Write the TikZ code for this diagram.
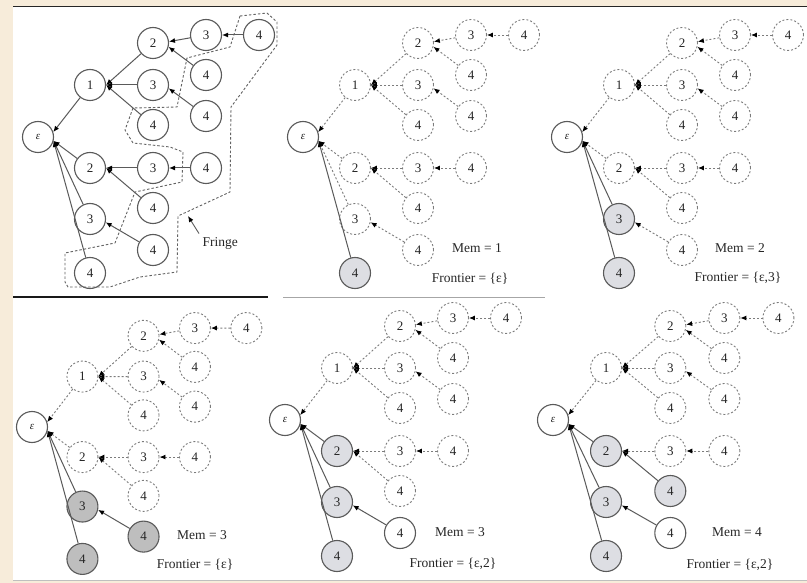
\documentclass[tikz,border=0pt]{standalone}
\usepackage{fontspec}
\setmainfont{Liberation Serif}
\usetikzlibrary{arrows.meta}
\definecolor{beige}{HTML}{F7ECDA}
\definecolor{lnc}{HTML}{5A5A5A}
\definecolor{dsh}{HTML}{7C7C7C}
\definecolor{shl}{HTML}{DDDEE3}
\definecolor{shd}{HTML}{BEBEBE}
\tikzset{
 nd/.style={circle, minimum size=31pt, inner sep=0pt, font=\fontsize{13}{15}\selectfont, text=black!85},
 dn/.style={nd, draw=dsh, line width=0.9pt, dash pattern=on 2pt off 2pt, fill=white},
 sn/.style={draw=lnc, line width=1.1pt, solid, fill=white},
 ln/.style={sn, fill=shl},
 kn/.style={sn, fill=shd},
 tip/.style={-{Latex[length=6pt,width=5pt,color=black]}},
 de/.style={draw=dsh, line width=0.9pt, dash pattern=on 2pt off 2pt, tip},
 se/.style={solid, draw=lnc, line width=1pt},
 lbl/.style={font=\fontsize{13.5}{16}\selectfont, text=black!85},
 Ne/.style={}, N1/.style={}, N12/.style={}, N123/.style={}, N1234/.style={},
 N124/.style={}, N13/.style={}, N134/.style={}, N14/.style={}, N2/.style={},
 N23/.style={}, N234/.style={}, N24/.style={}, N3/.style={}, N34/.style={}, N4/.style={},
 E1/.style={}, E12/.style={}, E123/.style={}, E1234/.style={},
 E124/.style={}, E13/.style={}, E134/.style={}, E14/.style={}, E2/.style={},
 E23/.style={}, E234/.style={}, E24/.style={}, E3/.style={}, E34/.style={}, E4/.style={},
}
\newcommand\drawtree[1]{%
 \node[dn,Ne] (#1-e) at (0,0) {\fontsize{11}{13}\selectfont\textit{ε}};
 \node[dn,N1] (#1-1) at (52,-52) {1};
 \node[dn,N12] (#1-12) at (115,-94) {2};
 \node[dn,N123] (#1-123) at (168,-102) {3};
 \node[dn,N1234] (#1-1234) at (221,-102) {4};
 \node[dn,N124] (#1-124) at (168,-62) {4};
 \node[dn,N13] (#1-13) at (115,-52) {3};
 \node[dn,N134] (#1-134) at (168,-21) {4};
 \node[dn,N14] (#1-14) at (115,-12) {4};
 \node[dn,N2] (#1-2) at (52,31) {2};
 \node[dn,N23] (#1-23) at (115,31) {3};
 \node[dn,N234] (#1-234) at (168,31) {4};
 \node[dn,N24] (#1-24) at (115,71) {4};
 \node[dn,N3] (#1-3) at (52,82) {3};
 \node[dn,N34] (#1-34) at (115,113) {4};
 \node[dn,N4] (#1-4) at (52,136) {4};
 \draw[de,E1] (#1-1) -- (#1-e.18);
 \draw[de,E2] (#1-2) -- (#1-e.-14);
 \draw[de,E3] (#1-3) -- (#1-e.-14);
 \draw[de,E4] (#1-4) -- (#1-e.-14);
 \draw[de,E12] (#1-12) -- (#1-1.east);
 \draw[de,E13] (#1-13) -- (#1-1.east);
 \draw[de,E14] (#1-14) -- (#1-1.east);
 \draw[de,E123] (#1-123) -- (#1-12.5);
 \draw[de,E124] (#1-124) -- (#1-12.-14);
 \draw[de,E1234] (#1-1234) -- (#1-123.east);
 \draw[de,E134] (#1-134) -- (#1-13.-12);
 \draw[de,E23] (#1-23) -- (#1-2.east);
 \draw[de,E24] (#1-24) -- (#1-2.east);
 \draw[de,E234] (#1-234) -- (#1-23.east);
 \draw[de,E34] (#1-34) -- (#1-3.-12);
}
\begin{document}
\begin{tikzpicture}[x=1pt,y=-1pt]
\useasboundingbox (0,0) rectangle (807,583);
\fill[beige] (0,0) rectangle (807,583);
\fill[white] (13,7) rectangle (807,580);
\draw[black!85, line width=1.4pt] (13,6.5) -- (807,6.5);
\draw[black!90, line width=1.4pt] (13,297) -- (268,297);
\draw[black!35, line width=0.8pt] (283,297) -- (545,297);
\draw[black!25, line width=0.8pt] (13,580.5) -- (807,580.5);
% panel 1
\begin{scope}[shift={(38,137)}, dn/.style={nd,sn}, de/.style={draw=lnc, line width=1pt, tip}]
\drawtree{a}
\end{scope}
\draw[dsh!80!black, line width=0.9pt, dash pattern=on 2.5pt off 2pt]
 (240,16) -- (267,13) -- (277,22) -- (277,45) -- (231,107) -- (230,192) -- (178,216)
 -- (177,272) -- (140,277) -- (110,287) -- (68,287) -- (65,282) -- (65,253) -- (115,243)
 -- (135,192) -- (182,182) -- (183,152) -- (170,147) -- (133,143) -- (125,130) -- (133,108)
 -- (177,107) -- (187,58) -- (230,47) -- cycle;
\node[lbl, anchor=west] (fr) at (199,243) {Fringe};
\coordinate (frtip) at (188,216);
\draw[lnc, line width=0.9pt, tip] (fr.north west) -- (frtip);
% panel 2
\begin{scope}[shift={(303,137)}, Ne/.style=sn, N4/.style=ln, E4/.style=se]
\drawtree{b}
\end{scope}
\node[lbl] (m2) at (477,248) {Mem = 1};
\node[lbl] (f2) at (470,279) {Frontier = \{ε\}};
% panel 3
\begin{scope}[shift={(567,137)}, Ne/.style=sn, N3/.style=ln, N4/.style=ln, E3/.style=se, E4/.style=se]
\drawtree{c}
\end{scope}
\node[lbl] (m3) at (740,248) {Mem = 2};
\node[lbl] (f3) at (738,278) {Frontier = \{ε,3\}};
% panel 4
\begin{scope}[shift={(32,427)}, scale=0.97, Ne/.style=sn, N3/.style=kn, N4/.style=kn, N34/.style=kn, E3/.style=se, E4/.style=se, E34/.style=se]
\drawtree{d}
\end{scope}
\node[lbl] (m4) at (202,535) {Mem = 3};
\node[lbl] (f4) at (195,565) {Frontier = \{ε\}};
% panel 5
\begin{scope}[shift={(285,420)}, Ne/.style=sn, N2/.style=ln, N3/.style=ln, N4/.style=ln, N34/.style=sn, E2/.style=se, E3/.style=se, E4/.style=se, E34/.style=se]
\drawtree{e}
\end{scope}
\node[lbl] (m5) at (460,532) {Mem = 3};
\node[lbl] (f5) at (453,564) {Frontier = \{ε,2\}};
% panel 6
\begin{scope}[shift={(553,420)}, xscale=1.02, Ne/.style=sn, N2/.style=ln, N3/.style=ln, N4/.style=ln, N24/.style=ln, N34/.style=sn, E2/.style=se, E3/.style=se, E4/.style=se, E24/.style=se, E34/.style=se]
\drawtree{f}
\end{scope}
\node[lbl] (m6) at (737,532) {Mem = 4};
\node[lbl] (f6) at (730,565) {Frontier = \{ε,2\}};
\end{tikzpicture}
\end{document}
